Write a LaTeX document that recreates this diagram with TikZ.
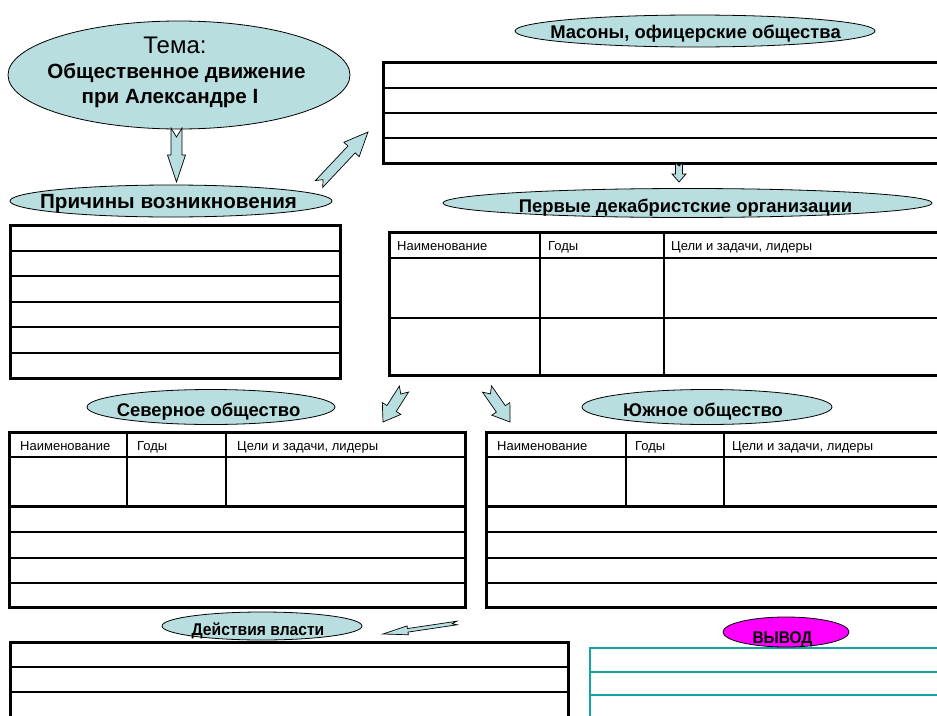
\documentclass[tikz,border=0pt]{standalone}
\usepackage{fontspec}
\usepackage{graphicx}
\setmainfont{Liberation Sans}
\usetikzlibrary{shapes.geometric}
\definecolor{ovalfill}{HTML}{B8DEE0}
\definecolor{tealline}{HTML}{12A3A3}
\definecolor{magentafill}{HTML}{FF00FF}
\tikzset{
  ovalnode/.style={ellipse, draw=black, line width=0.8pt, fill=ovalfill, inner sep=0pt},
  lbl/.style={font=\fontsize{18.4}{21}\selectfont\bfseries, inner sep=0pt, anchor=base},
  biglbl/.style={font=\fontsize{20.6}{24}\selectfont\bfseries, inner sep=0pt, anchor=base},
  narrowlbl/.style={font=\fontsize{17}{20}\selectfont\bfseries, inner sep=0pt, anchor=base},
  hdr/.style={font=\fontsize{13}{15}\selectfont, inner sep=0pt, anchor=base west},
  thickb/.style={draw=black, line width=3pt},
  innerl/.style={draw=black, line width=1.8pt},
  thinl/.style={draw=black, line width=1.2pt},
  barrow/.style={draw=black, line width=0.7pt, fill=ovalfill, line join=miter},
}
\newcommand{\blockarr}[8]{%
  \pgfmathsetmacro\bdx{#3-#1}%
  \pgfmathsetmacro\bdy{#4-#2}%
  \pgfmathsetmacro\blen{veclen(\bdx,\bdy)}%
  \pgfmathsetmacro\bux{\bdx/\blen}%
  \pgfmathsetmacro\buy{\bdy/\blen}%
  \pgfmathsetmacro\bpx{-1*(\buy)}%
  \pgfmathsetmacro\bpy{\bux}%
  \pgfmathsetmacro\bs{\blen-#7}%
  \draw[barrow] ({#1+#5*\bpx},{#2+#5*\bpy})
    -- ({#1+\bs*\bux+#5*\bpx},{#2+\bs*\buy+#5*\bpy})
    -- ({#1+\bs*\bux+#6*\bpx},{#2+\bs*\buy+#6*\bpy})
    -- (#3,#4)
    -- ({#1+\bs*\bux-#6*\bpx},{#2+\bs*\buy-#6*\bpy})
    -- ({#1+\bs*\bux-#5*\bpx},{#2+\bs*\buy-#5*\bpy})
    -- ({#1-#5*\bpx},{#2-#5*\bpy})
    -- ({#1+#8*\bux},{#2+#8*\buy}) -- cycle;
}
\begin{document}
\begin{tikzpicture}[x=1pt,y=-1pt]
\useasboundingbox (0,0) rectangle (937,715);
\clip (0,0) rectangle (937,715);
\fill[white] (0,0) rectangle (937,715);

% ---------- title ellipse
\node[ovalnode, minimum width=342pt, minimum height=108pt] (tema) at (179,75) {};
\node[inner sep=0pt, anchor=base, font=\fontsize{24}{28}\selectfont] (tema1) at (175,53) {Тема:};
\node[biglbl] (tema2) at (176.5,78) {Общественное движение};
\node[biglbl] (tema3) at (170,103) {при Александре I};

% ---------- causes
\node[ovalnode, minimum width=322pt, minimum height=32pt] (prich) at (171,201) {};
\node[biglbl] (prichT) at (168.5,208) {Причины возникновения};
\draw[innerl] (10,251) -- (340,251) (10,276) -- (340,276) (10,302) -- (340,302)
              (10,327) -- (340,327) (10,353) -- (340,353);
\draw[thickb] (10,225) rectangle (340,378);

% ---------- masons
\node[ovalnode, minimum width=360pt, minimum height=32pt] (mason) at (695,31) {};
\node[lbl] (masonT) at (695.5,38) {Масоны, офицерские общества};
\draw[innerl] (383,88) -- (945,88) (383,113) -- (945,113) (383,138) -- (945,138);
\draw[thickb] (383,62) rectangle (945,163);

% ---------- first organisations
\node[ovalnode, minimum width=489pt, minimum height=29pt] (perv) at (687.5,203) {};
\node[lbl] (pervT) at (685.5,212) {Первые декабристские организации};
\draw[thinl] (389,258) -- (945,258) (389,318) -- (945,318)
             (540,232) -- (540,375) (664,232) -- (664,375);
\draw[thickb] (389,232) rectangle (945,375);
\node[hdr] (pv1) at (397,250) {Наименование};
\node[hdr] (pv2) at (548,250) {Годы};
\node[hdr] (pv3) at (671,250) {Цели и задачи, лидеры};

% ---------- northern society
\node[ovalnode, minimum width=248pt, minimum height=35pt] (sev) at (211,407) {};
\node[lbl] (sevT) at (208.5,416) {Северное общество};
\draw[thinl] (9,457) -- (465,457) (127,432) -- (127,506) (226,432) -- (226,506);
\draw[thickb] (9,432) rectangle (465,506);
\draw[innerl] (9,532) -- (465,532) (9,558) -- (465,558) (9,583) -- (465,583);
\draw[thickb] (9,506) rectangle (465,607);
\node[hdr] (sv1) at (20,450) {Наименование};
\node[hdr] (sv2) at (137,450) {Годы};
\node[hdr] (sv3) at (237,450) {Цели и задачи, лидеры};

% ---------- southern society
\node[ovalnode, minimum width=250pt, minimum height=35pt] (yuzh) at (707,407) {};
\node[lbl] (yuzhT) at (703,416) {Южное общество};
\draw[thinl] (486,457) -- (945,457) (626,432) -- (626,506) (724,432) -- (724,506);
\draw[thickb] (486,432) rectangle (945,506);
\draw[innerl] (486,532) -- (945,532) (486,558) -- (945,558) (486,583) -- (945,583);
\draw[thickb] (486,506) rectangle (945,607);
\node[hdr] (yu1) at (497,450) {Наименование};
\node[hdr] (yu2) at (635,450) {Годы};
\node[hdr] (yu3) at (732,450) {Цели и задачи, лидеры};

% ---------- government actions
\draw[innerl] (10,667) -- (568,667) (10,692) -- (568,692);
\draw[thickb] (10,642) rectangle (568,730);
\node[ovalnode, minimum width=200pt, minimum height=28pt] (deis) at (262,626) {};
\node[narrowlbl] (deisT) at (258,635) {\scalebox{0.92}[1]{Действия власти}};

% ---------- conclusion
\draw[tealline, line width=2pt] (590,672) -- (945,672) (590,695) -- (945,695);
\draw[tealline, line width=2pt] (590,730) -- (590,648) -- (945,648);
\node[ellipse, draw=black, line width=0.8pt, fill=magentafill, inner sep=0pt,
      minimum width=126pt, minimum height=30pt] (vyv) at (786,632) {};
\node[narrowlbl] (vyvT) at (782.5,643) {\scalebox{0.91}[1]{ВЫВОД}};

% ---------- block arrows
\blockarr{176.5}{128}{176.5}{182}{5.5}{9}{27}{9}
\blockarr{319}{184}{368}{132}{5}{10.5}{24}{6}
\blockarr{679}{163}{679}{182}{3.5}{7}{8}{3}
\blockarr{404}{389}{383}{422}{5.5}{11}{16}{6}
\blockarr{487}{389}{510}{422}{5.5}{11}{16}{6}
\blockarr{457}{623}{383}{634}{1.8}{4.5}{25}{5}
\end{tikzpicture}
\end{document}
